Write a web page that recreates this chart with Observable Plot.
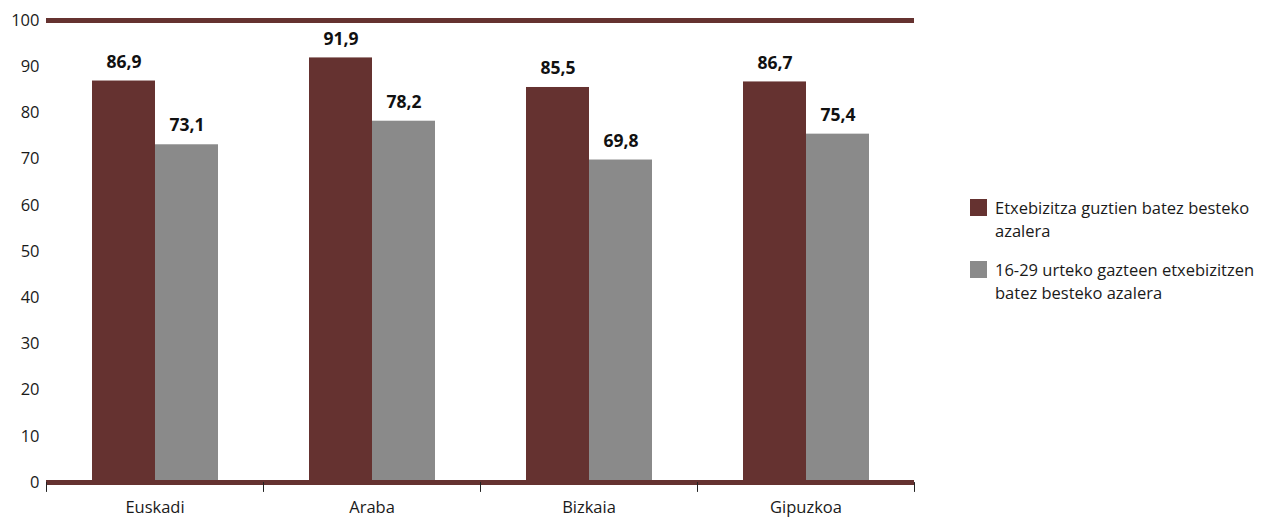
<!DOCTYPE html>
<html>
<head>
<meta charset="utf-8">
<script src="https://cdn.jsdelivr.net/npm/d3@7"></script>
<script src="https://cdn.jsdelivr.net/npm/@observablehq/plot@0.6"></script>
<style>
  html, body { margin: 0; padding: 0; background: #fff; }
  #wrap { position: relative; width: 1261px; height: 517px; font-family: "Open Sans", sans-serif; }
  #legend { position: absolute; left: 970px; top: 196px; width: 291px; font-size: 16.5px; color: #1a1a1a; line-height: 23px; white-space: nowrap; }
  .item { display: flex; align-items: flex-start; margin-bottom: 16px; }
  .sw { width: 17px; height: 17px; flex: none; margin-top: 3px; margin-right: 8px; }
</style>
</head>
<body>
<div id="wrap"><div id="chart"></div><div id="legend"></div></div>
<script>
const regions = ["Euskadi", "Araba", "Bizkaia", "Gipuzkoa"];
const seriesNames = ["Etxebizitza guztien batez besteko azalera", "16-29 urteko gazteen etxebizitzen batez besteko azalera"];
const legendLines = [["Etxebizitza guztien batez besteko", "azalera"], ["16-29 urteko gazteen etxebizitzen", "batez besteko azalera"]];
const allValues = [86.9, 91.9, 85.5, 86.7];
const youthValues = [73.1, 78.2, 69.8, 75.4];
const yTicks = [0, 10, 20, 30, 40, 50, 60, 70, 80, 90, 100];
const colors = ["#653230", "#8a8a8a"];

const data = regions.flatMap((r, i) => [
  {region: r, series: seriesNames[0], value: allValues[i]},
  {region: r, series: seriesNames[1], value: youthValues[i]}
]);

const tickShape = {draw(context, l) { context.moveTo(0, 0); context.lineTo(0, -l); }};

const chart = Plot.plot({
  width: 950,
  height: 517,
  marginTop: 20,
  marginBottom: 35,
  marginLeft: 45,
  marginRight: 35,
  style: {fontFamily: "Open Sans, sans-serif", fontSize: "16.5px", color: "#1a1a1a", background: "#fff"},
  fx: {domain: regions, padding: 0, axis: "bottom", tickSize: 0, tickPadding: 19, label: null},
  x: {domain: seriesNames, paddingInner: 0, paddingOuter: 0.72, axis: null},
  y: {domain: [0, 100], ticks: yTicks, tickSize: 0, tickPadding: 7, label: null, tickFormat: d => String(d)},
  color: {domain: seriesNames, range: colors},
  marks: [
    Plot.barY(data, {fx: "region", x: "series", y: "value", fill: "series"}),
    Plot.text(data, {fx: "region", x: "series", y: "value", text: d => d.value.toFixed(1).replace(".", ","), dy: -19, fontWeight: "bold", fontSize: 17.5, fill: "#111"}),
    Plot.ruleY([0, 100], {stroke: colors[0], strokeWidth: 5}),
    Plot.vector(regions, {fx: d => d, frameAnchor: "bottom-left", length: 9, rotate: 180, anchor: "start", shape: tickShape, stroke: "#222", strokeWidth: 1}),
    Plot.vector([regions[regions.length - 1]], {fx: d => d, frameAnchor: "bottom-right", length: 9, rotate: 180, anchor: "start", shape: tickShape, stroke: "#222", strokeWidth: 1})
  ]
});
document.getElementById("chart").appendChild(chart);

const legend = document.getElementById("legend");
seriesNames.forEach((s, i) => {
  const item = document.createElement("div");
  item.className = "item";
  const sw = document.createElement("div");
  sw.className = "sw";
  sw.style.background = colors[i];
  const txt = document.createElement("div");
  txt.innerHTML = legendLines[i].join("<br>");
  item.appendChild(sw);
  item.appendChild(txt);
  legend.appendChild(item);
});
</script>
</body>
</html>
